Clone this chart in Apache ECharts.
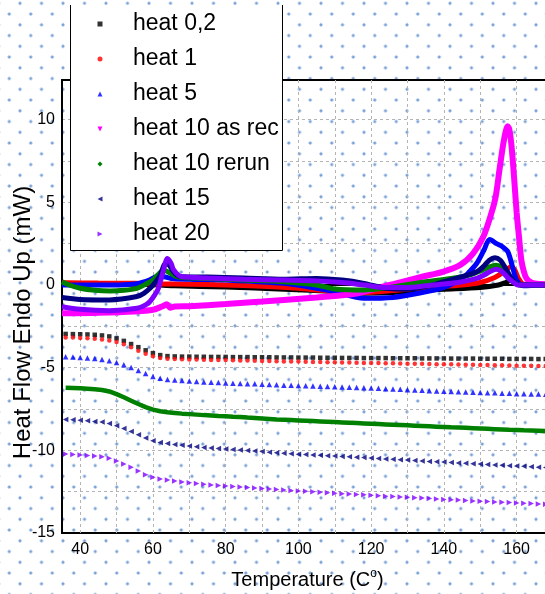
<!DOCTYPE html>
<html><head><meta charset="utf-8">
<script src="https://cdn.jsdelivr.net/npm/echarts@6/dist/echarts.min.js"></script>
<style>
html,body{margin:0;padding:0;background:#fff;}
#chart{width:545px;height:594px;background-color:#fff;
background-image: radial-gradient(circle, rgba(105,150,210,0.9) 0px, rgba(105,150,210,0.9) 1px, rgba(105,150,210,0) 2px), radial-gradient(circle, rgba(105,150,210,0.9) 0px, rgba(105,150,210,0.9) 1px, rgba(105,150,210,0) 2px);
background-size:21.5px 21.5px, 21.5px 21.5px;
background-position: 9.25px -7.45px, -1.5px 3.3px;}
</style></head>
<body><div id="chart"></div>
<script>
// ---- data ----
const seriesNames = ['heat 0,2','heat 1','heat 5','heat 10 as rec','heat 10 rerun','heat 15','heat 20'];
const seriesColors = ['#000000','#ff0000','#0000ff','#ff00ff','#008000','#000080','#8000ff'];

const markerTemps = [36,38,40,42,44,46,48,50,52,54,56,58,60,62,64,66,68,70,72,74,76,78,80,82,84,86,88,90,92,94,96,98,100,102,104,106,108,110,112,114,116,118,120,122,124,126,128,130,132,134,136,138,140,142,144,146,148,150,152,154,156,158,160,162,164,166,168];

const heat02Shifted = [-2.96,-2.97,-2.98,-2.99,-3.01,-3.05,-3.11,-3.23,-3.38,-3.57,-3.76,-3.95,-4.12,-4.24,-4.30,-4.32,-4.33,-4.33,-4.34,-4.34,-4.35,-4.35,-4.35,-4.36,-4.36,-4.36,-4.37,-4.37,-4.37,-4.38,-4.38,-4.38,-4.39,-4.39,-4.39,-4.40,-4.40,-4.40,-4.41,-4.41,-4.41,-4.42,-4.42,-4.42,-4.42,-4.43,-4.43,-4.43,-4.43,-4.44,-4.44,-4.44,-4.44,-4.45,-4.45,-4.45,-4.45,-4.46,-4.46,-4.46,-4.46,-4.47,-4.47,-4.47,-4.47,-4.48,-4.48];
const heat1Shifted = [-3.17,-3.18,-3.20,-3.22,-3.25,-3.29,-3.35,-3.44,-3.58,-3.77,-3.97,-4.16,-4.31,-4.41,-4.46,-4.48,-4.49,-4.50,-4.51,-4.52,-4.53,-4.54,-4.54,-4.55,-4.56,-4.57,-4.58,-4.59,-4.60,-4.61,-4.62,-4.62,-4.63,-4.64,-4.65,-4.66,-4.67,-4.67,-4.68,-4.69,-4.70,-4.71,-4.72,-4.72,-4.73,-4.74,-4.75,-4.76,-4.76,-4.77,-4.78,-4.79,-4.80,-4.80,-4.81,-4.82,-4.83,-4.84,-4.84,-4.85,-4.86,-4.87,-4.88,-4.88,-4.89,-4.90,-4.90];
const heat5Shifted = [-4.34,-4.36,-4.38,-4.41,-4.45,-4.50,-4.58,-4.69,-4.83,-4.99,-5.17,-5.36,-5.53,-5.64,-5.71,-5.75,-5.78,-5.81,-5.84,-5.86,-5.88,-5.90,-5.92,-5.94,-5.95,-5.97,-5.98,-6.00,-6.02,-6.04,-6.06,-6.07,-6.08,-6.10,-6.11,-6.12,-6.14,-6.15,-6.17,-6.18,-6.20,-6.22,-6.23,-6.25,-6.27,-6.29,-6.31,-6.33,-6.35,-6.37,-6.39,-6.41,-6.42,-6.44,-6.45,-6.47,-6.48,-6.50,-6.51,-6.52,-6.54,-6.55,-6.57,-6.58,-6.59,-6.60,-6.61];
const heat10rerunShifted = [-6.21,-6.23,-6.25,-6.28,-6.31,-6.35,-6.44,-6.60,-6.79,-7.00,-7.20,-7.39,-7.54,-7.64,-7.70,-7.74,-7.78,-7.81,-7.84,-7.87,-7.89,-7.92,-7.94,-7.97,-7.99,-8.02,-8.04,-8.07,-8.10,-8.13,-8.15,-8.17,-8.19,-8.21,-8.23,-8.25,-8.27,-8.29,-8.31,-8.33,-8.35,-8.37,-8.39,-8.41,-8.43,-8.45,-8.47,-8.49,-8.51,-8.53,-8.55,-8.57,-8.59,-8.61,-8.62,-8.64,-8.66,-8.68,-8.70,-8.72,-8.74,-8.76,-8.77,-8.79,-8.80,-8.82,-8.84];
const heat15Shifted = [-8.13,-8.15,-8.18,-8.21,-8.25,-8.29,-8.37,-8.51,-8.68,-8.86,-9.06,-9.26,-9.42,-9.52,-9.59,-9.64,-9.69,-9.74,-9.79,-9.83,-9.86,-9.89,-9.92,-9.95,-9.98,-10.01,-10.04,-10.07,-10.11,-10.15,-10.18,-10.20,-10.23,-10.25,-10.28,-10.30,-10.32,-10.35,-10.37,-10.39,-10.42,-10.44,-10.47,-10.49,-10.52,-10.54,-10.57,-10.59,-10.62,-10.64,-10.67,-10.69,-10.71,-10.74,-10.76,-10.78,-10.81,-10.83,-10.86,-10.88,-10.90,-10.93,-10.95,-10.97,-10.99,-11.02,-11.04];
const heat20Shifted = [-10.22,-10.25,-10.28,-10.31,-10.35,-10.39,-10.48,-10.64,-10.83,-11.03,-11.25,-11.47,-11.63,-11.73,-11.80,-11.86,-11.91,-11.96,-12.01,-12.05,-12.09,-12.12,-12.16,-12.19,-12.22,-12.25,-12.28,-12.31,-12.34,-12.37,-12.40,-12.43,-12.46,-12.48,-12.51,-12.54,-12.56,-12.59,-12.62,-12.64,-12.67,-12.69,-12.72,-12.74,-12.77,-12.79,-12.82,-12.84,-12.87,-12.89,-12.92,-12.95,-12.97,-12.99,-13.01,-13.04,-13.06,-13.08,-13.10,-13.12,-13.14,-13.16,-13.18,-13.20,-13.22,-13.24,-13.26];

const heat02Curve = [[35,0.1],[45,0.08],[55,0.05],[62,0.0],[66,-0.05],[80,-0.12],[96,-0.25],[110,-0.4],[118,-0.5],[126,-0.45],[135,-0.3],[140,-0.25],[150,-0.15],[155,0.0],[157,0.15],[158.5,0.3],[160,0.2],[161.5,0.0],[168,0.0]];
const heat1Curve = [[35,0.14],[45,0.12],[55,0.1],[62,0.06],[70,0.05],[80,0.0],[90,-0.08],[100,-0.2],[106,-0.32],[112,-0.42],[118,-0.45],[125,-0.35],[135,-0.15],[145,0.0],[150,0.15],[154,0.45],[156.5,0.8],[158.5,1.1],[159.5,0.9],[160.5,0.4],[162,0.05],[168,0.05]];
const heat5Curve = [[35,0.0],[45,0.0],[52,0.02],[56,0.1],[59,0.3],[61,0.5],[63,0.5],[65,0.4],[70,0.35],[80,0.3],[96,0.1],[105,-0.2],[110,-0.4],[118,-0.8],[126,-0.75],[133,-0.5],[140,-0.15],[145,0.4],[147,0.8],[149,1.3],[151,2.1],[152.6,2.75],[154.5,2.5],[156.2,2.3],[157.6,2.0],[159,1.0],[160,0.3],[161.8,-0.05],[168,0.0]];
const heat10recCurve = [[35,-1.71],[45,-1.68],[55,-1.6],[60,-1.5],[62.5,-1.3],[63.8,-1.17],[64.7,-1.37],[66,-1.3],[70,-1.28],[80,-1.15],[90,-1.0],[96,-0.9],[105,-0.75],[112,-0.62],[116,-0.52],[120,-0.3],[124,-0.05],[128.8,0.2],[134,0.5],[139.7,0.8],[144.4,1.2],[148,1.9],[150.8,2.9],[153,4.3],[154.2,5.3],[155.3,7.0],[156.3,8.5],[157,9.3],[157.5,9.6],[158,9.4],[158.6,8.4],[159.3,6.5],[160,4.4],[160.7,2.8],[161.3,1.5],[162,0.8],[162.7,0.4],[164,0.15],[165.5,0.08],[168,0.05]];
const heat10rerunCurve = [[35,0.2],[37,0.0],[40,-0.2],[44,-0.32],[48.2,-0.36],[52,-0.32],[55.6,-0.2],[58,0.05],[60,0.3],[61.5,0.65],[63,0.9],[64.5,0.75],[66,0.55],[68,0.45],[75,0.4],[85,0.3],[96,0.2],[105,0.0],[110,-0.24],[118,-0.3],[125,-0.15],[135,0.2],[142,0.4],[147,0.6],[150,0.85],[152,1.05],[154.3,1.2],[156,1.05],[158,0.5],[159.5,0.15],[161,0.0],[168,0.0]];
const heat15Curve = [[35,-0.75],[40,-0.87],[48,-0.9],[55.6,-0.7],[57.5,-0.5],[59.2,-0.2],[61,0.25],[62,0.6],[63.5,1.3],[64.5,1.2],[65.5,0.85],[66.6,0.6],[68,0.5],[75,0.48],[85,0.42],[96,0.35],[105,0.4],[112,0.3],[118,0.1],[124,-0.2],[130,-0.25],[135,-0.1],[140,0.2],[145,0.5],[149,0.8],[151,1.15],[152.5,1.5],[154,1.65],[155.5,1.5],[157,1.0],[158,0.6],[159.5,0.15],[161,0.0],[168,0.0]];
const heat20Curve = [[35,-1.31],[40,-1.47],[48,-1.55],[55.6,-1.41],[58,-1.2],[59.2,-1.0],[60.5,-0.6],[61.5,-0.2],[62.9,0.9],[64,1.6],[65,1.3],[65.6,0.95],[67,0.6],[68,0.5],[75,0.42],[85,0.35],[96,0.3],[105,0.25],[112,0.15],[118,0.0],[124,-0.15],[130,-0.15],[135,-0.05],[140,0.06],[145,0.2],[149,0.4],[151,0.6],[153,0.85],[154.5,0.95],[156,0.8],[158,0.35],[159.5,0.1],[160.5,0.0],[168,0.0]];

const yTickLabels = [-15,-10,-5,0,5,10];
const xTickLabels = [40,60,80,100,120,140,160];

// ---- chart ----
const FONT = "'Liberation Sans',Arial,sans-serif";
const symbols = ['path://M0,0L10,0L10,10L0,10Z','circle','path://M5,0L10,10L0,10Z','path://M0,0L10,0L5,10Z','path://M5,0L10,5L5,10L0,5Z','path://M10,0L10,10L0,5Z','path://M0,0L10,5L0,10Z'];

const shifted = [heat02Shifted, heat1Shifted, heat5Shifted, null, heat10rerunShifted, heat15Shifted, heat20Shifted];
const curves = [heat02Curve, heat1Curve, heat5Curve, heat10recCurve, heat10rerunCurve, heat15Curve, heat20Curve];

const series = [];
shifted.forEach((vals, i) => {
  if (!vals) return;
  const pts = markerTemps.map((t, k) => [t, vals[k]]);
  if (i === 4) {
    series.push({ name: seriesNames[i], type: 'line', data: pts, showSymbol: false, smooth: false,
      lineStyle: { color: seriesColors[i], width: 4.5 }, itemStyle: { color: seriesColors[i] }, z: 2 });
  } else {
    series.push({ name: seriesNames[i], type: 'scatter', data: pts, symbol: symbols[i],
      symbolSize: i <= 1 ? 4.5 : 5.5, itemStyle: { color: seriesColors[i] }, z: 2 });
  }
});
curves.forEach((pts, i) => {
  series.push({ name: seriesNames[i], type: 'line', data: pts, showSymbol: false, smooth: 0.3,
    lineStyle: { color: seriesColors[i], width: i === 3 ? 6 : 5 }, itemStyle: { color: seriesColors[i] }, z: 3 });
});

const chart = echarts.init(document.getElementById('chart'), null, { renderer: 'canvas' });
chart.setOption({
  animation: false,
  backgroundColor: 'transparent',
  grid: { left: 62, right: -8, top: 80, bottom: 61, outerBoundsMode: 'none', containLabel: false,
    show: true, borderColor: '#000', borderWidth: 2, backgroundColor: 'transparent' },
  xAxis: {
    type: 'value', min: 35, max: 170, splitNumber: 13,
    name: 'Temperature (C{sup|o})', nameLocation: 'middle', nameGap: 35, nameMoveOverlap: false,
    nameTextStyle: { fontFamily: FONT, fontSize: 20, color: '#000', lineHeight: 24,
      rich: { sup: { fontFamily: FONT, fontSize: 12, color: '#000', verticalAlign: 'top', lineHeight: 12 } } },
    axisLine: { show: true, lineStyle: { color: '#000', width: 2 } },
    axisTick: { show: false },
    axisLabel: { fontFamily: FONT, fontSize: 16, color: '#000', margin: 9,
      formatter: v => xTickLabels.indexOf(v) >= 0 ? String(v) : '' },
    splitLine: { show: true, showMinLine: false, showMaxLine: false, lineStyle: { color: '#b4b4b4', type: [3, 3], width: 1 } }
  },
  yAxis: {
    type: 'value', min: -15, max: 12.4, interval: 2.5,
    name: 'Heat Flow Endo Up (mW)', nameLocation: 'middle', nameGap: 27, nameMoveOverlap: false,
    nameTextStyle: { fontFamily: FONT, fontSize: 24, color: '#000', padding: [0, 32, 0, 0] },
    axisLine: { show: true, lineStyle: { color: '#000', width: 2 } },
    axisTick: { show: false },
    axisLabel: { fontFamily: FONT, fontSize: 16, color: '#000', margin: 7,
      formatter: v => yTickLabels.indexOf(v) >= 0 ? String(v) : '' },
    splitLine: { show: true, showMinLine: false, showMaxLine: false, lineStyle: { color: '#b4b4b4', type: [3, 3], width: 1 } }
  },
  legend: {
    orient: 'vertical', left: 97.5, top: 10, padding: 0, itemGap: 7, itemWidth: 56, itemHeight: 5,
    selectedMode: false,
    textStyle: { fontFamily: FONT, fontSize: 23, lineHeight: 28, color: '#000' },
    data: seriesNames.map((n, i) => ({ name: n, icon: symbols[i], itemStyle: { color: seriesColors[i] } }))
  },
  graphic: { elements: [
    { type: 'rect', z: 3, shape: { x: 70, y: 5, width: 212, height: 245 }, style: { fill: '#fff' } },
    { type: 'polyline', z: 3, shape: { points: [[70.5, 5], [70.5, 250.5], [282.5, 250.5], [282.5, 5]] }, style: { stroke: '#000', lineWidth: 1, fill: null } }
  ] },
  series: series
});
</script></body></html>
